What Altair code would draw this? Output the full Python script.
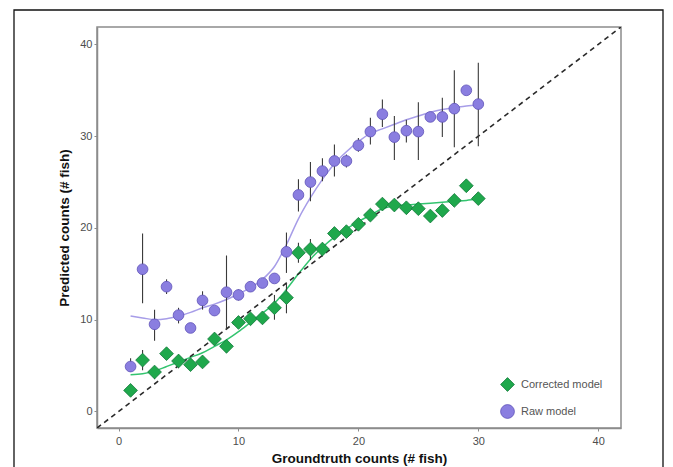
import altair as alt
import pandas as pd

# ---------------- data ----------------
xs = list(range(1, 31))

raw_y = [4.9, 15.5, 9.5, 13.6, 10.5, 9.1, 12.1, 11.0, 13.0, 12.7,
         13.6, 14.0, 14.5, 17.4, 23.6, 25.0, 26.2, 27.3, 27.3, 29.0,
         30.5, 32.4, 29.9, 30.6, 30.5, 32.1, 32.1, 33.0, 35.0, 33.5]
raw_lo = [4.3, 11.8, 7.7, 12.8, 9.6, 9.1, 11.1, 10.6, 8.9, 12.1,
          13.1, 13.6, 14.0, 15.1, 21.8, 22.9, 25.1, 25.6, 26.6, 28.3,
          29.1, 31.0, 27.4, 29.3, 27.4, 32.1, 29.9, 28.8, 35.0, 28.9]
raw_hi = [5.8, 19.4, 11.1, 14.4, 11.3, 9.1, 13.1, 11.4, 17.0, 13.3,
          14.1, 14.4, 14.9, 19.5, 25.3, 27.2, 27.6, 29.1, 28.0, 29.8,
          32.0, 34.0, 32.2, 31.8, 33.7, 32.1, 34.2, 37.2, 35.0, 38.0]
raw_fit = [10.4, 10.2, 10.0, 10.1, 10.4, 10.8, 11.3, 11.7, 12.2, 12.8,
           13.5, 14.4, 15.8, 18.2, 21.0, 23.3, 25.3, 27.0, 28.3, 29.4,
           30.3, 30.8, 31.3, 31.8, 32.2, 32.6, 32.9, 33.1, 33.3, 33.4]

corr_y = [2.3, 5.6, 4.3, 6.3, 5.5, 5.1, 5.4, 7.9, 7.1, 9.7,
          10.1, 10.2, 11.3, 12.4, 17.3, 17.7, 17.7, 19.4, 19.6, 20.4,
          21.4, 22.6, 22.5, 22.2, 22.1, 21.3, 21.9, 23.0, 24.6, 23.2]
corr_lo = [2.3, 4.5, 3.5, 5.8, 4.7, 5.1, 5.1, 7.6, 6.4, 9.4,
           9.8, 9.9, 10.0, 10.7, 16.2, 16.5, 16.9, 19.1, 19.3, 20.1,
           21.0, 22.2, 22.0, 21.9, 21.7, 21.0, 21.5, 22.7, 24.6, 22.8]
corr_hi = [2.3, 6.7, 4.9, 6.7, 6.2, 5.1, 5.7, 8.2, 7.6, 10.0,
           10.4, 10.5, 12.7, 14.0, 18.4, 18.8, 18.4, 19.7, 19.9, 20.7,
           21.8, 23.0, 23.0, 22.5, 22.5, 21.6, 22.3, 23.3, 24.6, 23.6]
corr_fit = [4.0, 4.1, 4.4, 4.9, 5.4, 5.9, 6.4, 7.1, 7.8, 8.7,
            9.7, 10.7, 11.8, 13.3, 15.0, 16.6, 17.9, 19.0, 19.9, 20.7,
            21.4, 22.1, 22.4, 22.5, 22.6, 22.7, 22.8, 22.9, 23.0, 23.2]

series_names = ["Corrected model", "Raw model"]
axis_domain = [-1.8, 41.9]
tick_values = [0, 10, 20, 30, 40]
diag_values = [-1.8, 41.9]

# ---------------- tables ----------------
df = pd.concat([
    pd.DataFrame({"x": xs, "y": corr_y, "lo": corr_lo, "hi": corr_hi,
                  "fit": corr_fit, "series": series_names[0]}),
    pd.DataFrame({"x": xs, "y": raw_y, "lo": raw_lo, "hi": raw_hi,
                  "fit": raw_fit, "series": series_names[1]}),
])
diag_df = pd.DataFrame({"x": diag_values, "y": diag_values})
frame_df = pd.DataFrame({"a": [0]})

FONT = "Liberation Sans"
GREEN = "#1fa84c"
PURPLE = "#8a7ee0"

xscale = alt.Scale(domain=axis_domain, nice=False, zero=False)
yscale = alt.Scale(domain=axis_domain, nice=False, zero=False)

xenc = alt.X("x:Q", scale=xscale,
             axis=alt.Axis(title="Groundtruth counts (# fish)", values=tick_values,
                           titlePadding=5, labelPadding=4))
yenc = alt.Y("y:Q", scale=yscale,
             axis=alt.Axis(title="Predicted counts (# fish)", values=tick_values,
                           titlePadding=8, labelPadding=2))

frame = alt.Chart(frame_df).mark_rect(
    fill="transparent", stroke="#111", strokeWidth=1.3
).encode(
    x=alt.value(-83), x2=alt.value(566), y=alt.value(-17), y2=alt.value(470)
)

diag = alt.Chart(diag_df).mark_line(
    color="#2a2a2a", strokeDash=[5, 4], strokeWidth=1.6, clip=True
).encode(x=xenc, y=yenc)

fit_raw = alt.Chart(df).transform_filter(
    alt.datum.series == series_names[1]
).mark_line(color="#a79de8", strokeWidth=1.5, interpolate="monotone").encode(
    x=xenc, y=alt.Y("fit:Q", scale=yscale)
)
fit_corr = alt.Chart(df).transform_filter(
    alt.datum.series == series_names[0]
).mark_line(color="#33c46f", strokeWidth=1.5, interpolate="monotone").encode(
    x=xenc, y=alt.Y("fit:Q", scale=yscale)
)

bars = alt.Chart(df).mark_rule(color="#3a3a3a", strokeWidth=1.1).encode(
    x=xenc, y=alt.Y("lo:Q", scale=yscale), y2="hi:Q"
)

legend_kw = dict(title=None, orient="none", legendX=403, legendY=350,
                 labelFont=FONT, labelFontSize=11, labelColor="#555",
                 symbolSize=190, rowPadding=10, labelOffset=6,
                 symbolStrokeWidth=0.8)

point_enc = dict(
    x=xenc, y=yenc,
    fill=alt.Fill("series:N",
                  scale=alt.Scale(domain=series_names, range=[GREEN, PURPLE]),
                  legend=alt.Legend(**legend_kw)),
    shape=alt.Shape("series:N",
                    scale=alt.Scale(domain=series_names, range=["diamond", "circle"]),
                    legend=alt.Legend(**legend_kw)),
    stroke=alt.Stroke("series:N",
                      scale=alt.Scale(domain=series_names, range=["#11783a", "#5e52b8"]),
                      legend=alt.Legend(**legend_kw)),
)

pts_corr = alt.Chart(df).transform_filter(
    alt.datum.series == series_names[0]
).mark_point(filled=True, opacity=1, strokeWidth=0.8, size=190).encode(**point_enc)

pts_raw = alt.Chart(df).transform_filter(
    alt.datum.series == series_names[1]
).mark_point(filled=True, opacity=1, strokeWidth=0.8, size=115).encode(**point_enc)

chart = alt.layer(frame, fit_raw, fit_corr, diag, bars, pts_corr, pts_raw).properties(
    width=524, height=401,
    autosize=alt.AutoSizeParams(type="none"),
    padding={"left": 89, "top": 19, "right": 44, "bottom": 40},
    background="white",
).configure_axis(
    grid=False,
    labelFont=FONT, labelFontSize=11, labelColor="#4d4d4d",
    titleFont=FONT, titleFontSize=13.5, titleFontWeight="bold", titleColor="#111",
    domainColor="#8c8c8c", domainWidth=1.5,
    tickColor="#8c8c8c", tickSize=3,
).configure_view(
    stroke="#8c8c8c", strokeWidth=1.5
)

chart.save("out.html", embed_options={"renderer": "svg", "actions": False})
